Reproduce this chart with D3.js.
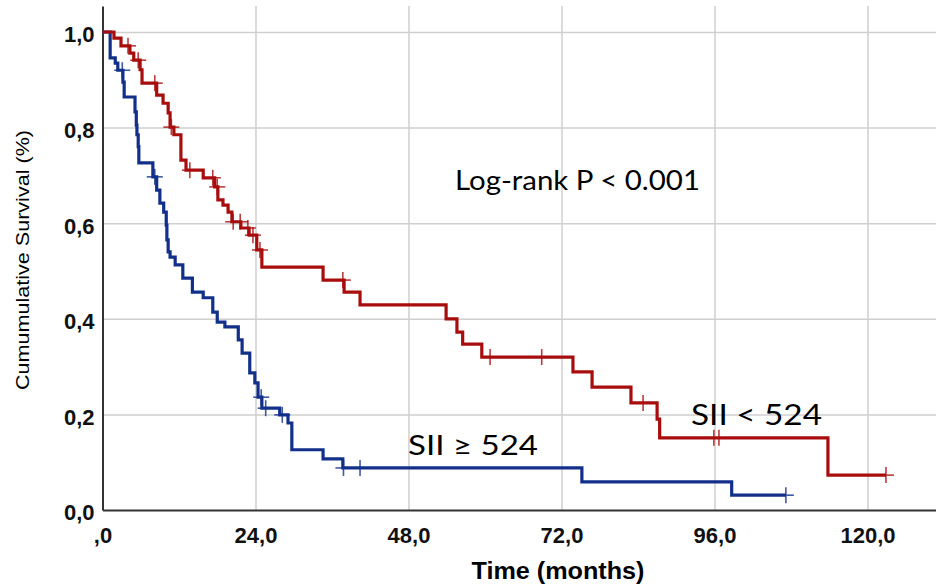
<!DOCTYPE html>
<html>
<head>
<meta charset="utf-8">
<script src="https://cdn.jsdelivr.net/npm/d3@7"></script>
<style>
  body { margin: 0; background: #fff; }
  svg { display: block; }
</style>
</head>
<body>
<svg width="936" height="588"></svg>
<script>
// Kaplan-Meier data (months, survival after the drop)
var lowTimes = [1.8, 2.9, 4.3, 4.9, 5.9, 6.2, 8.5, 9.5, 10.3, 10.6, 11.2, 12.3, 13.1, 15.8, 17.6, 18.1, 18.9, 19.7, 20.3, 21.7, 23.0, 24.2, 25.0, 34.6, 37.9, 40.4, 53.9, 55.6, 56.5, 59.5, 73.8, 76.8, 82.9, 87.0, 87.4, 113.8];
var lowSurv = [0.987, 0.971, 0.956, 0.941, 0.921, 0.893, 0.868, 0.851, 0.831, 0.801, 0.785, 0.732, 0.711, 0.695, 0.676, 0.649, 0.638, 0.623, 0.603, 0.590, 0.575, 0.544, 0.508, 0.481, 0.456, 0.429, 0.400, 0.372, 0.347, 0.320, 0.289, 0.257, 0.224, 0.190, 0.151, 0.073];
var lowCensor = [4.0, 5.6, 8.2, 10.8, 13.7, 17.3, 18.0, 20.5, 21.6, 22.8, 23.6, 24.7, 37.7, 60.8, 68.9, 84.8, 95.9, 96.7, 122.9];

var highTimes = [1.2, 2.0, 2.4, 3.2, 3.4, 5.1, 5.3, 5.4, 5.6, 5.7, 7.9, 8.5, 9.0, 9.6, 10.0, 10.1, 10.3, 10.6, 11.4, 12.6, 14.1, 15.8, 17.3, 18.0, 19.2, 21.3, 21.9, 23.1, 23.9, 24.4, 25.0, 27.8, 29.1, 29.7, 34.6, 37.7, 75.2, 98.7];
var highSurv = [0.946, 0.935, 0.920, 0.895, 0.864, 0.833, 0.805, 0.785, 0.760, 0.726, 0.697, 0.669, 0.642, 0.623, 0.596, 0.565, 0.540, 0.529, 0.513, 0.485, 0.456, 0.444, 0.414, 0.393, 0.383, 0.356, 0.328, 0.287, 0.266, 0.236, 0.213, 0.199, 0.182, 0.126, 0.107, 0.088, 0.059, 0.031];
var highCensor = [3.1, 8.2, 24.9, 25.6, 28.2, 37.8, 40.4, 107.2];

var xTicks = [0, 24, 48, 72, 96, 120];
var xTickLabels = [",0", "24,0", "48,0", "72,0", "96,0", "120,0"];
var yTicks = [0, 0.2, 0.4, 0.6, 0.8, 1.0];
var yTickLabels = ["0,0", "0,2", "0,4", "0,6", "0,8", "1,0"];

var svg = d3.select("svg");
var margin = { top: 6, left: 102.5, bottom: 78, right: 0 };
var width = 936, height = 588;

var x = d3.scaleLinear().domain([0, 130.75]).range([margin.left, width - margin.right]);
var y = d3.scaleLinear().domain([0, 1.0544]).range([height - margin.bottom, margin.top]);

var red = "#a80d0d", blue = "#12308a";

svg.append("rect").attr("width", width).attr("height", height).attr("fill", "#fff");

// grid
svg.append("g")
  .attr("transform", "translate(0," + y(0) + ")")
  .call(d3.axisBottom(x).tickValues(xTicks.slice(1)).tickSize(-(y(0) - margin.top)).tickFormat(""))
  .call(function(g) { g.select(".domain").remove(); })
  .selectAll("line").attr("stroke", "#cfcfcf").attr("stroke-width", 1.5);

svg.append("g")
  .attr("transform", "translate(" + x(0) + ",0)")
  .call(d3.axisLeft(y).tickValues(yTicks.slice(1)).tickSize(-(width - x(0))).tickFormat(""))
  .call(function(g) { g.select(".domain").remove(); })
  .selectAll("line").attr("stroke", "#cfcfcf").attr("stroke-width", 1.5);

// axes
var xAxis = svg.append("g")
  .attr("transform", "translate(0," + y(0) + ")")
  .call(d3.axisBottom(x).tickValues(xTicks).tickSize(0).tickSizeOuter(0).tickPadding(17)
    .tickFormat(function(d, i) { return xTickLabels[i]; }));

var yAxis = svg.append("g")
  .attr("transform", "translate(" + x(0) + ",0)")
  .call(d3.axisLeft(y).tickValues(yTicks).tickSize(0).tickSizeOuter(0).tickPadding(8)
    .tickFormat(function(d, i) { return yTickLabels[i]; }));

svg.selectAll(".domain").attr("stroke", "#333").attr("stroke-width", 2);
svg.selectAll(".tick text")
  .attr("font-family", "'Liberation Sans', Arial, sans-serif")
  .attr("font-weight", "bold")
  .attr("font-size", 22)
  .attr("fill", "#111");
yAxis.selectAll(".tick text").attr("dy", "0.45em");

// survival curves
function steps(times, surv, end) {
  var pts = [[0, 1]];
  times.forEach(function(t, i) { pts.push([t, surv[i]]); });
  pts.push([end, surv[surv.length - 1]]);
  return pts;
}
function survAt(times, surv, t) {
  var s = 1;
  times.forEach(function(tt, i) { if (tt <= t) s = surv[i]; });
  return s;
}

var line = d3.line()
  .x(function(d) { return x(d[0]); })
  .y(function(d) { return y(d[1]); })
  .curve(d3.curveStepAfter);

var groups = [
  { times: highTimes, surv: highSurv, censor: highCensor, color: blue },
  { times: lowTimes, surv: lowSurv, censor: lowCensor, color: red }
];

groups.forEach(function(g) {
  var end = g.censor[g.censor.length - 1];
  svg.append("path")
    .datum(steps(g.times, g.surv, end))
    .attr("d", line)
    .attr("fill", "none")
    .attr("stroke", g.color)
    .attr("stroke-width", 3.2)
    .attr("stroke-linejoin", "miter");

  var marks = svg.append("g").selectAll("g")
    .data(g.censor)
    .enter()
    .append("g")
    .attr("transform", function(t) {
      return "translate(" + x(t) + "," + y(survAt(g.times, g.surv, t)) + ")";
    })
    .attr("stroke", g.color)
    .attr("stroke-width", 1.6)
    .attr("opacity", 0.8);
  marks.append("line").attr("x1", -8).attr("x2", 8);
  marks.append("line").attr("y1", -8).attr("y2", 8);
});

// annotations
var labelFont = "Lato, 'Open Sans', sans-serif";
svg.append("text")
  .attr("x", 455).attr("y", 190)
  .attr("font-family", labelFont).attr("font-size", 27)
  .attr("textLength", 245).attr("lengthAdjust", "spacingAndGlyphs")
  .text("Log-rank P < 0.001");

svg.append("text")
  .attr("x", 691).attr("y", 425)
  .attr("font-family", labelFont).attr("font-size", 28)
  .attr("textLength", 131).attr("lengthAdjust", "spacingAndGlyphs")
  .text("SII < 524");

svg.append("text")
  .attr("x", 408).attr("y", 455)
  .attr("font-family", labelFont).attr("font-size", 27)
  .attr("textLength", 130).attr("lengthAdjust", "spacingAndGlyphs")
  .text("SII \u2265 524");

// axis titles
svg.append("text")
  .attr("x", 558).attr("y", 579)
  .attr("text-anchor", "middle")
  .attr("font-family", "'Liberation Sans', Arial, sans-serif")
  .attr("font-weight", "bold").attr("font-size", 23)
  .attr("textLength", 173).attr("lengthAdjust", "spacingAndGlyphs")
  .text("Time (months)");

svg.append("text")
  .attr("transform", "translate(29,260) rotate(-90)")
  .attr("text-anchor", "middle")
  .attr("font-family", "'Liberation Sans', Arial, sans-serif")
  .attr("font-size", 19)
  .attr("textLength", 260).attr("lengthAdjust", "spacingAndGlyphs")
  .text("Cumumulative Survival (%)");
</script>
</body>
</html>
